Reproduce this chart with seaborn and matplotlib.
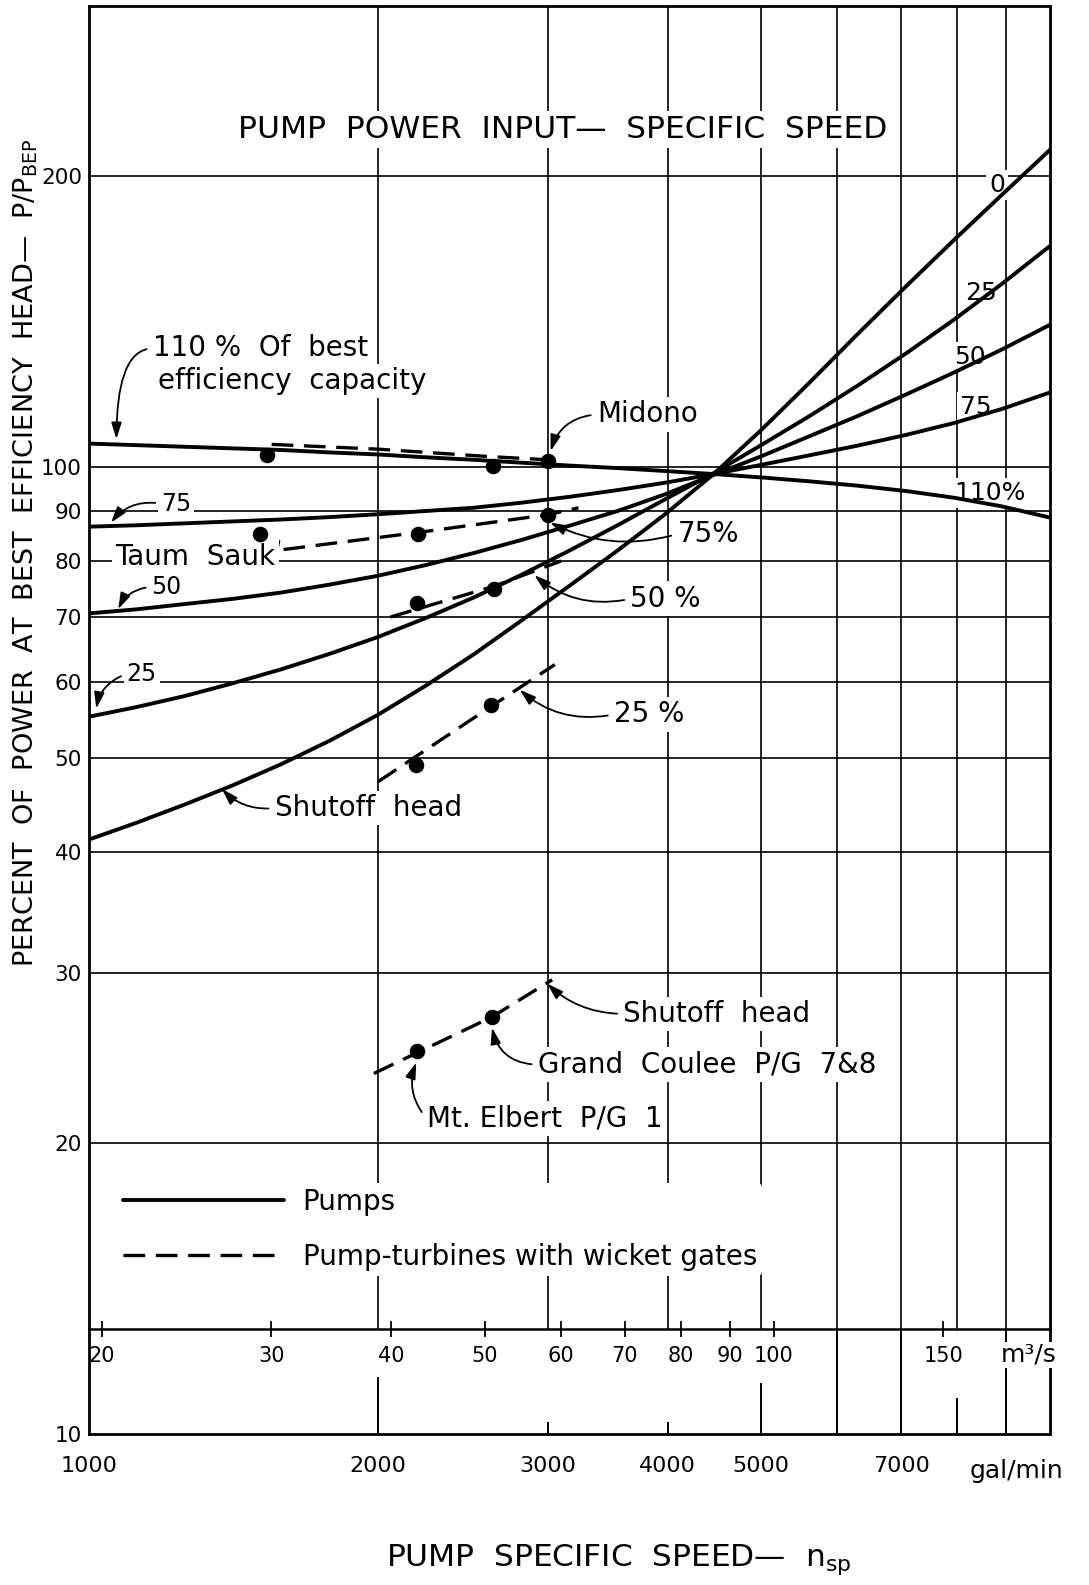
import math
import matplotlib
matplotlib.use("Agg")
import matplotlib.pyplot as plt
import matplotlib.ticker as mticker
from matplotlib.lines import Line2D
import pandas as pd
import seaborn as sns

# ---------------- data ----------------
gpm_pts = [1000, 1122, 1259, 1413, 1585, 1778, 1995, 2239, 2512, 2818, 3162,
           3548, 3981, 4467, 5012, 5623, 6310, 7079, 7943, 8913, 10000]
pump_0 = [41.2, 42.9, 44.8, 46.9, 49.3, 52.1, 55.4, 59.4, 64.0, 69.4, 75.4,
          82.0, 89.5, 98.4, 109.4, 122.4, 137.4, 153.8, 171.8, 191.4, 213.0]
pump_25 = [55.2, 56.5, 58.0, 59.8, 61.8, 64.1, 66.7, 69.8, 73.3, 77.4, 82.0,
           87.1, 92.7, 98.6, 105.5, 113.0, 121.5, 131.1, 142.1, 154.8, 169.4]
pump_50 = [70.6, 71.3, 72.2, 73.1, 74.2, 75.6, 77.2, 79.2, 81.5, 84.1, 87.0,
           90.1, 93.8, 98.2, 102.7, 107.7, 113.0, 118.9, 125.3, 132.4, 140.4]
pump_75 = [86.8, 87.1, 87.5, 87.9, 88.3, 88.8, 89.4, 90.1, 90.8, 91.9, 93.2,
           94.7, 96.4, 98.4, 100.6, 102.9, 105.3, 108.0, 111.1, 114.9, 119.5]
pump_110 = [105.8, 105.4, 105.0, 104.6, 104.2, 103.6, 103.1, 102.4, 101.8, 101.1, 100.4,
            99.8, 99.1, 98.4, 97.6, 96.7, 95.7, 94.5, 93.0, 91.1, 88.7]

pt110_gpm = [1549, 2000, 2600, 3000]
pt110_val = [105.6, 104.4, 102.6, 101.8]
pt75_gpm = [1594, 2198, 3000, 3231]
pt75_val = [82.2, 85.6, 89.3, 90.8]
pt50_gpm = [2060, 2637, 3100]
pt50_val = [70.0, 75.3, 80.0]
pt25_gpm = [2000, 2623, 3053]
pt25_val = [47.3, 56.6, 62.5]
pt0_gpm = [1979, 2626, 3034]
pt0_val = [23.6, 27.0, 29.5]

dot_gpm = [1531, 2633, 3000, 1506, 2198, 3000, 2195, 2637, 2191, 2623, 2193, 2626]
dot_val = [103.0, 100.2, 101.6, 85.2, 85.3, 89.3, 72.3, 74.8, 49.2, 56.8, 24.9, 27.0]

ytick_vals = [10, 20, 30, 40, 50, 60, 70, 80, 90, 100, 200]
ytick_labels = [str(v) for v in ytick_vals]
gal_ticks = [1000, 2000, 3000, 4000, 5000, 6000, 7000, 8000, 9000, 10000]
gal_labels = ['1000', '2000', '3000', '4000', '5000', '', '7000', '', '', '']
m3s_ticks = [20, 30, 40, 50, 60, 70, 80, 90, 100, 150]
m3s_labels = [str(v) for v in m3s_ticks]
GPM_PER_M3S = 51.6

hgrid_vals = [20, 30, 40, 50, 60, 70, 80, 90, 100, 200]
vgrid_gpm = [2000, 3000, 4000, 5000, 6000, 7000, 8000, 9000]
vgrid_low_top = [11.45, 10.3, 10.3, 11.3, 12.85, 12.85, 10.9, 12.85]
M3S_LINE = 12.85
Y_MIN, Y_MAX = 10, 300

KIND_P = 'Pumps'
KIND_T = 'Pump-turbines with wicket gates'

# ---------------- long-form table ----------------
rows = []
for name, vals in [('0', pump_0), ('25', pump_25), ('50', pump_50),
                   ('75', pump_75), ('110', pump_110)]:
    for g, v in zip(gpm_pts, vals):
        rows.append((g, v, 'pump ' + name, KIND_P))
for name, gs, vs in [('110', pt110_gpm, pt110_val), ('75', pt75_gpm, pt75_val),
                     ('50', pt50_gpm, pt50_val), ('25', pt25_gpm, pt25_val),
                     ('0', pt0_gpm, pt0_val)]:
    for g, v in zip(gs, vs):
        rows.append((g, v, 'pt ' + name, KIND_T))
df = pd.DataFrame(rows, columns=['gpm', 'power', 'curve', 'kind'])
dots = pd.DataFrame({'gpm': dot_gpm, 'power': dot_val})

# ---------------- style ----------------
sns.set_theme(style='white')
plt.rcParams['font.family'] = ['DejaVu Sans']
plt.rcParams['mathtext.default'] = 'regular'
plt.rcParams['axes.edgecolor'] = 'black'
plt.rcParams['text.color'] = 'black'
plt.rcParams['xtick.color'] = 'black'
plt.rcParams['ytick.color'] = 'black'

fig = plt.figure(figsize=(10.89, 15.85), dpi=100)
ax = fig.add_axes([0.0817, 0.0953, 0.8825, 0.9009])

DASH = (6.5, 3.2)
sns.lineplot(data=df, x='gpm', y='power', units='curve', estimator=None,
             style='kind', dashes={KIND_P: '', KIND_T: DASH},
             size='kind', sizes={KIND_P: 2.8, KIND_T: 2.4},
             color='black', legend=False, ax=ax, zorder=3)
sns.scatterplot(data=dots, x='gpm', y='power', color='black', s=125,
                linewidth=0, legend=False, ax=ax, zorder=4)

ax.set_xscale('log')
ax.set_yscale('log')
ax.set_xlim(1000, 10000)
ax.set_ylim(Y_MIN, Y_MAX)
ax.grid(False)
ax.set_xlabel('')
ax.set_ylabel('')

for sp in ax.spines.values():
    sp.set_linewidth(2.0)
    sp.set_color('black')

# grid lines
ax.hlines(hgrid_vals, 1000, 10000, colors='black', lw=1.2, zorder=1)
ax.vlines(vgrid_gpm, M3S_LINE, Y_MAX, colors='black', lw=1.2, zorder=1)
ax.vlines(vgrid_gpm, Y_MIN, vgrid_low_top, colors='black', lw=1.4, zorder=1)

# ticks
ax.set_yticks(ytick_vals)
ax.set_yticklabels(ytick_labels, fontsize=15.5)
ax.yaxis.set_minor_locator(mticker.NullLocator())
ax.tick_params(axis='y', direction='out', length=4, width=1.2, pad=1)
ax.set_xticks(gal_ticks)
ax.set_xticklabels(gal_labels, fontsize=16)
ax.xaxis.set_minor_locator(mticker.NullLocator())
ax.tick_params(axis='x', length=0, pad=16)

loc_frac = (math.log10(M3S_LINE) - math.log10(Y_MIN)) / math.log10(Y_MAX / Y_MIN)
sec = ax.secondary_xaxis(loc_frac, functions=(lambda x: x / GPM_PER_M3S,
                                              lambda x: x * GPM_PER_M3S))
sec.set_xticks(m3s_ticks)
sec.set_xticklabels(m3s_labels, fontsize=15)
sec.xaxis.set_minor_locator(mticker.NullLocator())
sec.tick_params(axis='x', which='major', direction='inout', length=11, width=1.3,
                pad=7, labelsize=15)
for sp in sec.spines.values():
    sp.set_linewidth(1.8)

xt = ax.get_xaxis_transform()
ax.text(9510, 0.0553, 'm³/s', transform=xt, ha='center', va='center',
        fontsize=18, zorder=3,
        bbox=dict(boxstyle='square,pad=0.05', fc='white', ec='none'))
ax.text(9218, -0.026, 'gal/min', transform=xt, ha='center', va='center',
        fontsize=18, clip_on=False)

# ---------------- texts ----------------
WB = dict(boxstyle='square,pad=0.12', fc='white', ec='none')
ax.text(0.493, 0.9135, 'PUMP  POWER  INPUT—  SPECIFIC  SPEED',
        transform=ax.transAxes, ha='center', va='center', fontsize=22.5,
        bbox=WB, zorder=2)

AKW = dict(arrowstyle='-|>,head_length=0.7,head_width=0.22', color='black',
           lw=1.3, shrinkA=2, shrinkB=1, mutation_scale=14)


def note(text, xy, xytext, conn, relpos=(0, 0.5), size=20, ha='left', va='center'):
    ax.annotate(text, xy=xy, xytext=xytext, ha=ha, va=va, fontsize=size,
                arrowprops=dict(AKW, connectionstyle=conn, relpos=relpos),
                bbox=WB, zorder=2)


note('110 %  Of  best', (1068, 106.6), (1165, 132.7), 'angle3,angleA=0,angleB=90')
ax.text(1180, 122.8, 'efficiency  capacity', ha='left', va='center',
        fontsize=20, bbox=WB, zorder=2)
note('Midono', (3020, 103.6), (3376, 113.4), 'arc3,rad=0.35')
note('75', (1052, 87.4), (1188, 91.7), 'arc3,rad=0.3', size=17)
note('Taum  Sauk', (1510, 83.8), (1065, 80.7), 'arc3,rad=0.4', relpos=(1, 0.5))
note('50', (1071, 71.1), (1161, 75.2), 'arc3,rad=0.3', size=17)
note('25', (1017, 56.1), (1094, 61.1), 'arc3,rad=0.3', size=17)
note('Shutoff  head', (1372, 46.6), (1560, 44.4), 'arc3,rad=-0.25')
note('75%', (3010, 87.8), (4094, 85.3), 'arc3,rad=-0.2')
note('50 %', (2900, 77.5), (3658, 73.1), 'arc3,rad=-0.25')
note('25 %', (2800, 59.0), (3517, 55.5), 'arc3,rad=-0.25')
note('Shutoff  head', (2990, 29.3), (3597, 27.2), 'arc3,rad=-0.2')
note('Grand  Coulee  P/G  7&8', (2625, 26.4), (2931, 24.1), 'arc3,rad=-0.4')
note('Mt. Elbert  P/G  1', (2193, 24.3), (2246, 21.2), 'arc3,rad=-0.3')

for txt, gx, yv in [('0', 8811, 196.0), ('25', 8466, 151.4), ('50', 8247, 130.1),
                    ('75', 8365, 115.3), ('110%', 8664, 94.1)]:
    ax.text(gx, yv, txt, ha='center', va='center', fontsize=18, bbox=WB, zorder=2)

# legend
handles = [Line2D([], [], color='black', lw=2.8),
           Line2D([], [], color='black', lw=2.4, dashes=DASH)]
leg = ax.legend(handles, [KIND_P, KIND_T], loc='upper left',
                bbox_to_anchor=(0.030, 0.176), frameon=True, fontsize=20,
                handlelength=5.8, handletextpad=0.65, labelspacing=0.95,
                borderpad=0.2, borderaxespad=0)
leg.get_frame().set_facecolor('white')
leg.get_frame().set_edgecolor('none')
leg.get_frame().set_alpha(1)

# axis titles
fig.text(0.024, 0.651, 'PERCENT  OF  POWER  AT  BEST  EFFICIENCY  HEAD—  P/P$_{BEP}$',
         rotation=90, ha='center', va='center', fontsize=19.5)
fig.text(0.568, 0.016, 'PUMP  SPECIFIC  SPEED—  n$_{sp}$', ha='center',
         va='center', fontsize=22.5)

fig.savefig('out.png', dpi=100)
